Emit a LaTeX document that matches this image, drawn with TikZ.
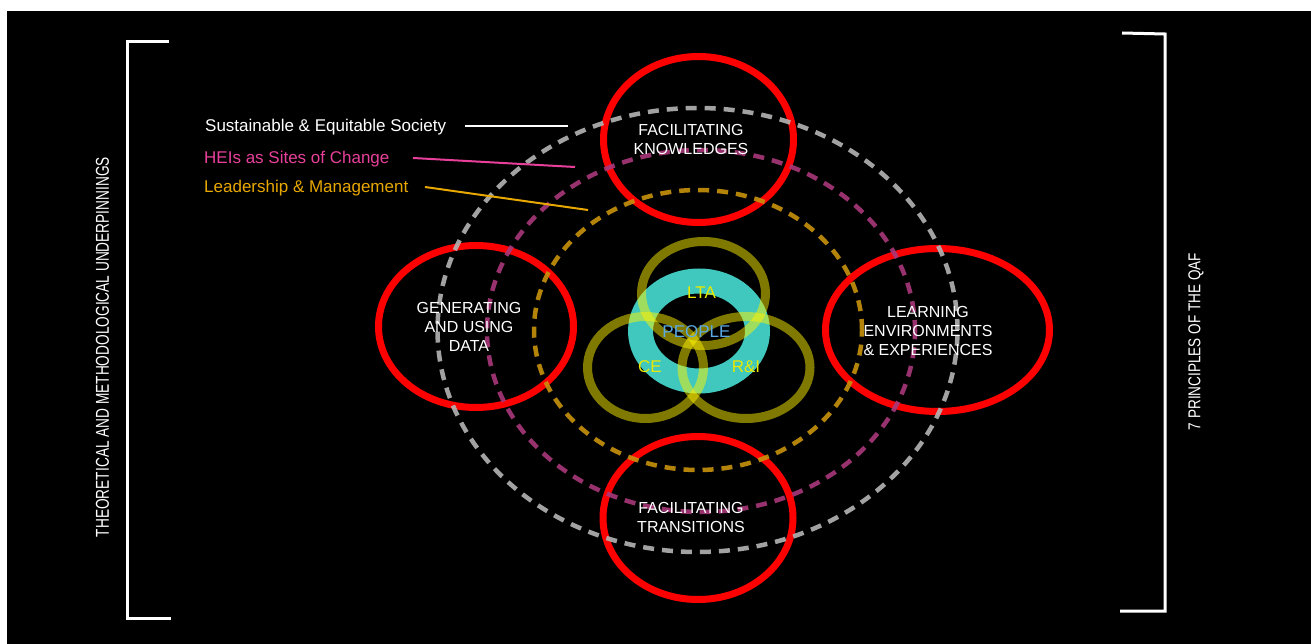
\documentclass[tikz,border=0pt]{standalone}
\usepackage{graphicx}
\usepackage{fontspec}
\setmainfont{Liberation Sans}
\definecolor{dgray}{HTML}{B4B4B4}
\definecolor{dmag}{HTML}{A8387A}
\definecolor{dgold}{HTML}{C8920C}
\definecolor{tealring}{HTML}{40C8BE}
\definecolor{ppl}{HTML}{5AAAE6}
\definecolor{pinklab}{HTML}{E8409A}
\definecolor{goldlab}{HTML}{E8A800}
\definecolor{vyel}{HTML}{E8E800}
\begin{document}
\begin{tikzpicture}[x=1pt,y=-1pt,
  bracket/.style={draw=white,line width=3pt,line join=miter},
  redring/.style={draw=red,line width=7pt},
  dashring/.style={line width=4.5pt,dash pattern=on 11pt off 8pt,opacity=0.9},
  venn/.style={draw=yellow,line width=9pt,opacity=0.5},
  lbl/.style={text=white,align=center,inner sep=0pt,font=\fontsize{16}{19}\selectfont},
  keylbl/.style={anchor=west,inner sep=0pt,font=\fontsize{17}{20}\selectfont},
  vlab/.style={text=vyel,inner sep=0pt,font=\fontsize{17}{20}\selectfont},
  leader/.style={line width=2pt}
]
\useasboundingbox (0,0) rectangle (1311,644);
\fill[white] (0,0) rectangle (1311,644);
\fill[black] (7,11) rectangle (1311,644);

% brackets
\draw[bracket] (169,42) -- (127,42) -- (127,618) -- (171,618);
\draw[bracket] (1122,33) -- (1165,34) -- (1165,611) -- (1120,611);

% side texts
\node[rotate=90,text=white,inner sep=0pt] (theo) at (102.5,347)
  {\resizebox{380pt}{13pt}{THEORETICAL AND METHODOLOGICAL UNDERPINNINGS}};
\node[rotate=90,text=white,inner sep=0pt] (qaf) at (1196,341.5)
  {\resizebox{177pt}{12pt}{7 PRINCIPLES OF THE QAF}};

% red ellipses
\draw[redring] (698.5,139.5) ellipse [x radius=95pt, y radius=83pt];
\draw[redring] (698,518) ellipse [x radius=95pt, y radius=81.5pt];
\draw[redring] (476,326.5) ellipse [x radius=97.5pt, y radius=81pt];
\draw[redring] (937.5,330) ellipse [x radius=112pt, y radius=81.5pt];

% dashed ellipses
\draw[dashring,draw=dgray] (697.5,330) ellipse [x radius=260pt, y radius=222pt];
\draw[dashring,draw=dmag] (701,331) ellipse [x radius=214pt, y radius=181pt];
\draw[dashring,draw=dgold] (698,330) ellipse [x radius=164pt, y radius=140pt];

% people ring and venn circles
\draw[draw=tealring,line width=25pt] (699,331) ellipse [x radius=58.5pt, y radius=50pt];
\draw[venn] (703.5,293.5) ellipse [x radius=62pt, y radius=52pt];
\draw[venn] (645.5,367.5) ellipse [x radius=58pt, y radius=51pt];
\draw[venn] (746,367.5) ellipse [x radius=64pt, y radius=51pt];

\node[vlab] (lta) at (701.5,293) {LTA};
\node[vlab,text=ppl] (people) at (696.5,332) {PEOPLE};
\node[vlab] (ce) at (650,367) {CE};
\node[vlab] (ri) at (746,367) {R\&I};

% principle labels
\node[lbl] (fk) at (691,139) {FACILITATING\\KNOWLEDGES};
\node[lbl] (ft) at (691,517) {FACILITATING\\TRANSITIONS};
\node[lbl] (gd) at (469,327) {GENERATING\\AND USING\\DATA};
\node[lbl] (le) at (928,331) {LEARNING\\ENVIRONMENTS\\\& EXPERIENCES};

% key labels
\node[keylbl,text=white] (ses) at (205,127) {Sustainable \& Equitable Society};
\node[keylbl,text=pinklab] (hei) at (204,159) {HEIs as Sites of Change};
\node[keylbl,text=goldlab] (lm) at (204,188) {Leadership \& Management};

\coordinate (sesA) at (465,126);
\coordinate (sesB) at (568,126);
\coordinate (heiA) at (413,158);
\coordinate (heiB) at (575,167);
\coordinate (lmA) at (425,187);
\coordinate (lmB) at (588,210);
\draw[leader,draw=white] (sesA) -- (sesB);
\draw[leader,draw=pinklab] (heiA) -- (heiB);
\draw[leader,draw=goldlab] (lmA) -- (lmB);
\end{tikzpicture}
\end{document}
